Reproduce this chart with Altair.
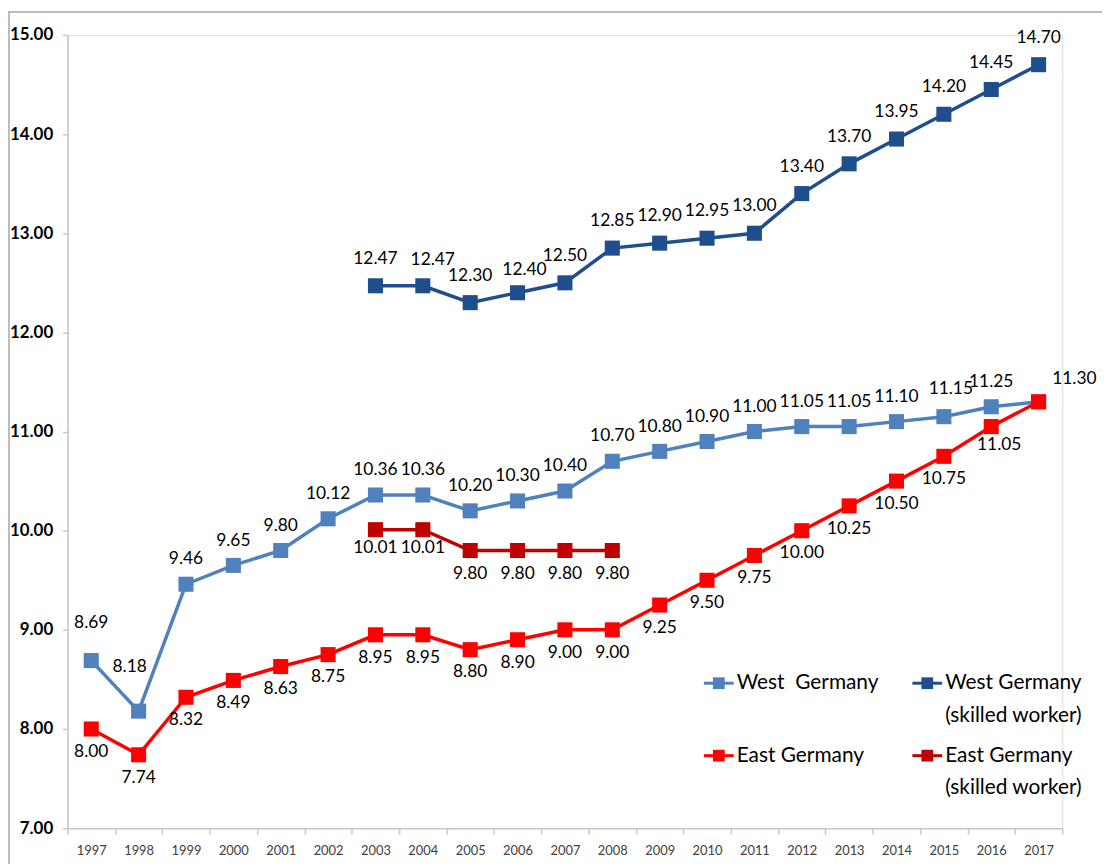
import altair as alt
import pandas as pd

# ---- data ----
years = [str(y) for y in range(1997, 2018)]
west = [8.69, 8.18, 9.46, 9.65, 9.80, 10.12, 10.36, 10.36, 10.20, 10.30, 10.40,
        10.70, 10.80, 10.90, 11.00, 11.05, 11.05, 11.10, 11.15, 11.25, 11.30]
east = [8.00, 7.74, 8.32, 8.49, 8.63, 8.75, 8.95, 8.95, 8.80, 8.90, 9.00,
        9.00, 9.25, 9.50, 9.75, 10.00, 10.25, 10.50, 10.75, 11.05, 11.30]
west_sk_years = [str(y) for y in range(2003, 2018)]
west_sk = [12.47, 12.47, 12.30, 12.40, 12.50, 12.85, 12.90, 12.95, 13.00,
           13.40, 13.70, 13.95, 14.20, 14.45, 14.70]
east_sk_years = [str(y) for y in range(2003, 2009)]
east_sk = [10.01, 10.01, 9.80, 9.80, 9.80, 9.80]
y_ticks = [7, 8, 9, 10, 11, 12, 13, 14, 15]

series_names = ["West Germany", "West Germany (skilled worker)",
                "East Germany", "East Germany (skilled worker)"]
series_colors = ["#4f81bd", "#1f4e8c", "#ff0000", "#c00000"]

rows = []
for yr, v in zip(years, west):
    rows.append({"year": yr, "value": v, "series": series_names[0]})
for yr, v in zip(west_sk_years, west_sk):
    rows.append({"year": yr, "value": v, "series": series_names[1]})
for yr, v in zip(years, east):
    rows.append({"year": yr, "value": v, "series": series_names[2]})
for yr, v in zip(east_sk_years, east_sk):
    rows.append({"year": yr, "value": v, "series": series_names[3]})
df = pd.DataFrame(rows)

# ---- label placement (style) ----
default_off = {series_names[0]: (0, -25), series_names[1]: (0, -27),
               series_names[2]: (0, 23), series_names[3]: (0, 24)}
special_off = {
    (series_names[0], "1997"): (0, -38),
    (series_names[0], "1998"): (-9, -44),
    (series_names[0], "2015"): (7, -28),
    (series_names[0], "2017"): (36, -23),
    (series_names[1], "2004"): (10, -26),
    (series_names[1], "2006"): (7, -23),
    (series_names[2], "2016"): (8, 19),
    (series_names[3], "2003"): (0, 18),
    (series_names[3], "2004"): (0, 18),
}
hidden = {(series_names[2], "2017")}

FONT = "Lato, Liberation Sans, sans-serif"

xenc = alt.X("year:O", bandPosition=0.5,
             scale=alt.Scale(type="band", paddingInner=0, paddingOuter=0, domain=years),
             axis=alt.Axis(title=None, tickBand="extent", labelAngle=0,
                           labelFont=FONT, labelFontSize=13, labelColor="#404040",
                           domainColor="#c8c8c8", tickColor="#c8c8c8", tickSize=6,
                           labelPadding=11, domainWidth=1.5, tickWidth=1.5))
yenc = alt.Y("value:Q", scale=alt.Scale(domain=[7, 15], nice=False, zero=False),
             axis=alt.Axis(title=None, values=y_ticks, format=".2f", grid=False,
                           labelFont=FONT, labelFontSize=17, labelFontWeight="bold",
                           labelColor="#000000", domainColor="#c8c8c8",
                           tickColor="#c8c8c8", tickSize=5, labelPadding=10,
                           domainWidth=1.5, tickWidth=1.5))
cenc = alt.Color("series:N", scale=alt.Scale(domain=series_names, range=series_colors),
                 legend=None)

layers = []
# draw order: West, West skilled, East skilled, East (red on top)
for s in [series_names[0], series_names[1], series_names[3], series_names[2]]:
    sub = df[df["series"] == s]
    base = alt.Chart(sub).encode(x=xenc, y=yenc, color=cenc)
    layers.append(base.mark_line(strokeWidth=3.5))
    layers.append(base.mark_point(shape="square", filled=True, size=230, opacity=1))

# labels grouped by offset
groups = {}
for _, r in df.iterrows():
    key = (r["series"], r["year"])
    if key in hidden:
        continue
    off = special_off.get(key, default_off[r["series"]])
    groups.setdefault(off, []).append(r)
for (dx, dy), rs in groups.items():
    sub = pd.DataFrame(rs)
    layers.append(
        alt.Chart(sub).mark_text(dx=dx, dy=dy, font=FONT, fontSize=17.5,
                                 color="#000000", baseline="middle", align="center")
        .encode(x=xenc, y=yenc, text=alt.Text("value:Q", format=".2f"))
    )

# custom legend (pixel layout)
dummy = pd.DataFrame({"d": [0]})
legend_items = [
    (series_names[0], ["West\u00a0 Germany"], 641, 653),
    (series_names[1], ["West Germany", "(skilled worker)"], 851, 653),
    (series_names[2], ["East Germany"], 641, 726),
    (series_names[3], ["East Germany", "(skilled worker)"], 851, 726),
]
for name, lines, lx, ly in legend_items:
    col = series_colors[series_names.index(name)]
    lb = alt.Chart(dummy)
    layers.append(lb.mark_rule(color=col, strokeWidth=3).encode(
        x=alt.value(lx), x2=alt.value(lx + 30), y=alt.value(ly)))
    layers.append(lb.mark_point(shape="square", filled=True, size=140, opacity=1,
                                color=col).encode(x=alt.value(lx + 15), y=alt.value(ly)))
    for i, t in enumerate(lines):
        layers.append(lb.mark_text(align="left", baseline="middle", font=FONT,
                                   fontSize=21, color="#000000").encode(
            x=alt.value(lx + 33), y=alt.value(ly + 33 * i), text=alt.value(t)))

# outer frame lines (left and top)
fb = alt.Chart(dummy)
layers.append(fb.mark_rule(color="#a6a6a6", strokeWidth=1.5, clip=False).encode(
    x=alt.value(-59), y=alt.value(-24), y2=alt.value(835)))
layers.append(fb.mark_rule(color="#a6a6a6", strokeWidth=1.5, clip=False).encode(
    x=alt.value(-59), x2=alt.value(1042), y=alt.value(-23)))

chart = alt.layer(*layers).properties(
    width=1002, height=799,
    autosize=alt.AutoSizeParams(type="none"),
    padding={"left": 60, "top": 24, "right": 40, "bottom": 36},
).configure_view(stroke=None).configure(background="white")

chart.save("out.html", embed_options={"renderer": "svg", "actions": False})
